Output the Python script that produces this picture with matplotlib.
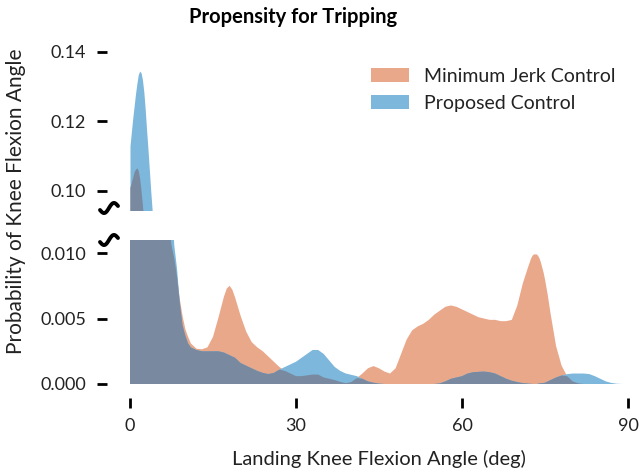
import numpy as np
import matplotlib.pyplot as plt
from matplotlib.patches import Patch

plt.rcParams['font.family'] = ['Lato', 'DejaVu Sans']

# landing knee flexion angle grid (deg), shared by both density curves
angle = [0, 0.25, 0.5, 0.75, 1, 1.25, 1.5, 1.75, 2, 2.25, 2.5, 2.75, 3, 3.25, 3.5, 3.75, 4,
         4.5, 5, 5.5, 6, 6.5, 7, 7.5, 8, 8.5, 9, 9.5, 10, 10.5, 11,
         12, 13, 14, 15, 16, 16.5, 17, 17.5, 18, 18.5, 19, 19.5, 20,
         21, 22, 23, 24, 25, 26, 27, 28, 29,
         30, 31, 32, 33, 34, 35, 36, 37, 38, 39, 40, 41, 42, 43, 44, 45, 46, 47, 48, 49,
         50, 51, 52, 53, 54, 55, 56, 57, 58, 59, 60, 61, 62, 63, 64, 65, 66, 67, 68, 69,
         70, 71, 72, 72.25, 72.5, 72.75, 73, 73.25, 73.5, 73.75, 74, 74.25, 74.5, 74.75,
         75, 75.25, 75.5, 75.75, 76, 77, 78, 79, 80, 81, 82, 83, 84,
         85, 86, 87, 88, 89, 90]

# minimum jerk control
dens_mj = [0.101, 0.1025, 0.104, 0.1055, 0.1063, 0.1066, 0.1058, 0.1035, 0.100, 0.0958,
           0.091, 0.085, 0.079, 0.0725, 0.066, 0.0595, 0.053,
           0.042, 0.032, 0.025, 0.019, 0.0153, 0.0125, 0.0106, 0.0096, 0.0082, 0.0065,
           0.0052, 0.0042, 0.0036, 0.0031,
           0.0027, 0.00265, 0.0028, 0.0036, 0.0051, 0.0059, 0.0067, 0.0073, 0.0075, 0.0072,
           0.0066, 0.0059, 0.0052,
           0.0040, 0.0032, 0.0028, 0.0025, 0.0021, 0.0017, 0.0013, 0.0010, 0.0008,
           0.0006, 0.0006, 0.00066, 0.00072, 0.00072, 0.0005, 0.0004, 0.0003, 0.00016, 0.00006,
           0.00015, 0.00045, 0.0008, 0.0012, 0.00137, 0.0012, 0.00095, 0.0008, 0.0012, 0.0023,
           0.0034, 0.0041, 0.0044, 0.0046, 0.0049, 0.0053, 0.0056, 0.0059, 0.0060, 0.0059,
           0.0057, 0.0055, 0.0053, 0.0051, 0.0050, 0.0049, 0.0049, 0.0048, 0.0048, 0.0049,
           0.0060, 0.0077, 0.0090, 0.0093, 0.0096, 0.0098, 0.0099, 0.0099, 0.0099, 0.0098,
           0.0096, 0.0093, 0.0089, 0.0085,
           0.0080, 0.0074, 0.0068, 0.0061, 0.0054, 0.0029, 0.0014, 0.0006, 0.0002, 0.00005,
           0, 0, 0,
           0, 0, 0, 0, 0, 0]

# proposed control
dens_pc = [0.113, 0.117, 0.121, 0.1245, 0.128, 0.131, 0.1335, 0.1345, 0.134, 0.132,
           0.1285, 0.1235, 0.1175, 0.112, 0.106, 0.100, 0.0945,
           0.080, 0.066, 0.052, 0.040, 0.029, 0.021, 0.0145, 0.0106, 0.0088, 0.0062,
           0.0045, 0.0037, 0.0031, 0.0028,
           0.0026, 0.0025, 0.0025, 0.0025, 0.0025, 0.00245, 0.0024, 0.0023, 0.0022, 0.0021,
           0.0020, 0.0018, 0.0016,
           0.0014, 0.0012, 0.0010, 0.00085, 0.00076, 0.00085, 0.0011, 0.0013, 0.0015,
           0.0017, 0.0020, 0.0023, 0.0026, 0.0026, 0.0023, 0.0018, 0.0013, 0.0010, 0.0008,
           0.0007, 0.0006, 0.0004, 0.0002, 0.0001, 0.00003, 0, 0, 0, 0,
           0, 0, 0, 0, 0, 0, 0.00005, 0.0002, 0.0004, 0.0005,
           0.0006, 0.0008, 0.0009, 0.00093, 0.00095, 0.0009, 0.0008, 0.0006, 0.0004, 0.00025,
           0.00015, 0.00007, 0.00003, 0.00002, 0.00001, 0.00001, 0, 0, 0, 0.00002,
           0.00005, 0.00006, 0.00007, 0.00008,
           0.0001, 0.00015, 0.0002, 0.00025, 0.0003, 0.0005, 0.00065, 0.00075, 0.0008, 0.0008,
           0.0008, 0.00076, 0.0006,
           0.0004, 0.0002, 0.00008, 0.00002, 0, 0]

labels = ["Minimum Jerk Control", "Proposed Control"]
xticks = [0, 30, 60, 90]
yticks_top = [0.10, 0.12, 0.14]
yticks_bot = [0.000, 0.005, 0.010]

c_mj = "#eaa88b"
c_pc = "#7db7dc"
c_both = "#7889a0"
txt = "#222222"

x = np.array(angle)
mj = np.array(dens_mj)
pc = np.array(dens_pc)
both = np.minimum(mj, pc)

W, H = 642, 472
fig = plt.figure(figsize=(W / 100, H / 100), dpi=100)
ax_top = fig.add_axes([130 / W, 1 - 210 / H, 498 / W, 158 / H])
ax_bot = fig.add_axes([130 / W, 1 - 384 / H, 498 / W, 144 / H])

for ax in (ax_top, ax_bot):
    ax.fill_between(x, 0, mj, color=c_mj, lw=0)
    ax.fill_between(x, 0, pc, color=c_pc, lw=0)
    ax.fill_between(x, 0, both, color=c_both, lw=0)
    ax.set_xlim(0, 90)
    for s in ax.spines.values():
        s.set_color('none')
    ax.spines['left'].set_position(('outward', 16.5))
    ax.tick_params(axis='y', length=7.2, width=2, color='black', pad=8,
                   labelsize=13, labelcolor=txt)

ax_top.set_ylim(0.0945, 0.14)
ax_top.set_yticks(yticks_top)
ax_top.set_yticklabels(["%.2f" % v for v in yticks_top])
ax_top.set_xticks([])

ax_bot.set_ylim(0, 0.011)
ax_bot.set_yticks(yticks_bot)
ax_bot.set_yticklabels(["%.3f" % v for v in yticks_bot])
ax_bot.spines['bottom'].set_position(('outward', 10))
ax_bot.set_xticks(xticks)
ax_bot.tick_params(axis='x', length=7.2, width=2, color='black', pad=7,
                   labelsize=13, labelcolor=txt)

# break marks on the y axis
t = np.linspace(0, 1, 40)
for yc in (208, 240):
    mx = 109 + (t - 0.5) * 18
    my = yc + 4 * np.sin(2 * np.pi * t) - (t - 0.5) * 4
    fig.add_artist(plt.Line2D(mx / W, 1 - my / H, color='black', lw=2.8,
                              solid_capstyle='round'))

fig.text(293 / W, 1 - 17 / H, "Propensity for Tripping", ha='center', va='center',
         fontsize=14.5, fontweight='bold', color='black')
fig.text(379 / W, 1 - 459 / H, "Landing Knee Flexion Angle (deg)", ha='center',
         va='center', fontsize=14.5, color=txt)
fig.text(16 / W, 1 - 201 / H, "Probability of Knee Flexion Angle", ha='center',
         va='center', rotation=90, fontsize=15, color=txt)

handles = [Patch(color=c_mj, lw=0), Patch(color=c_pc, lw=0)]
fig.legend(handles, labels, loc='upper left', bbox_to_anchor=(371 / W, 1 - 68 / H),
           frameon=False, fontsize=14, borderpad=0, borderaxespad=0,
           handlelength=1.95, handleheight=0.75, handletextpad=0.78, labelspacing=0.5,
           labelcolor=txt)

fig.savefig("out.png", dpi=100)
